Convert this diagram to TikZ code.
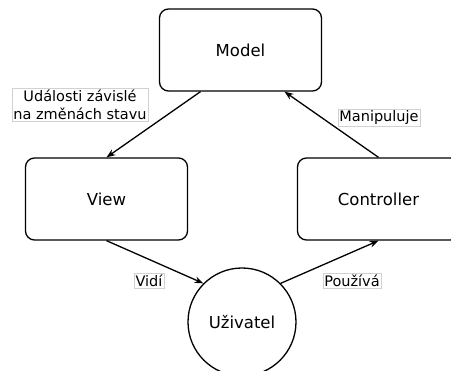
\documentclass[tikz,border=0pt]{standalone}
\usepackage{fontspec}
\setmainfont{DejaVu Sans}
\usetikzlibrary{arrows.meta}

\begin{document}
\begin{tikzpicture}[x=1pt,y=-1pt,>=Stealth,line width=1.3pt,
 box/.style={draw,rounded corners=9pt,minimum width=162pt,minimum height=82pt,inner sep=0pt,font=\fontsize{16.5}{19}\selectfont},
 user/.style={draw,circle,minimum size=108pt,inner sep=0pt,font=\fontsize{16.5}{19}\selectfont},
 lab/.style={draw=black!18,line width=0.6pt,fill=white,inner sep=1.5pt,align=center,font=\fontsize{14.5}{18}\selectfont}]
\clip (0,0) rectangle (451,371);
\node[box] (model) at (240.5,50) {Model};
\node[box] (view) at (106.5,199) {View};
\node[box] (controller) at (378.5,199) {Controller};
\node[user] (user) at (242,322) {Uživatel};
\draw[->] ([xshift=-40pt]model.south)--(view.north);
\draw[->] (controller.north)--([xshift=44pt]model.south);
\draw[->] (view.south)--(user.135);
\draw[->] (user.45)--(controller.south);

\node[lab] (events) at (80,105) {Události závislé\\na změnách stavu};
\node[lab] (manip) at (379,118) {Manipuluje};
\node[lab] (sees) at (149,281) {Vidí};
\node[lab] (uses) at (352,281) {Používá};
\end{tikzpicture}
\end{document}
